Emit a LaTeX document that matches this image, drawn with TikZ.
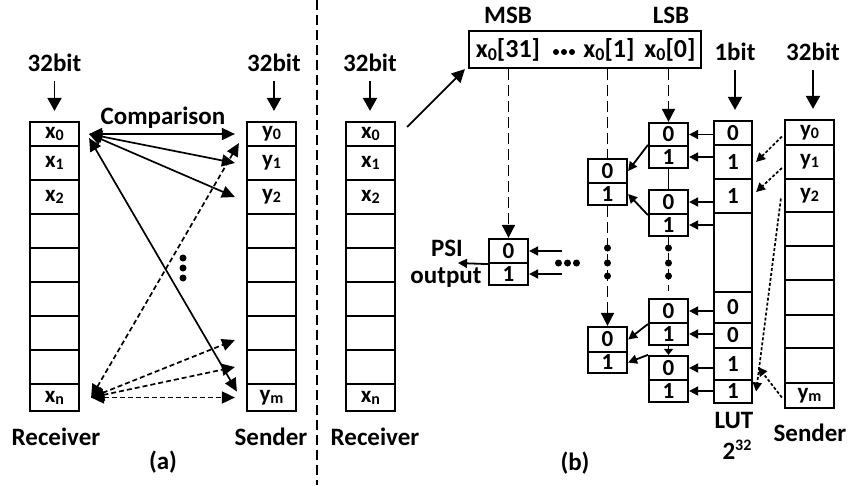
\documentclass[tikz,border=0pt]{standalone}
\usepackage{fontspec}
\setmainfont{Carlito}
\usetikzlibrary{arrows.meta,positioning}

\newcommand{\lsub}[1]{\raisebox{-2pt}{\fontsize{16}{16}\selectfont #1}}
\newcommand{\rsub}[1]{\raisebox{-2.5pt}{\fontsize{18}{18}\selectfont #1}}

\tikzset{
  cell/.style={draw,line width=2.2pt,inner sep=0pt,font=\bfseries\fontsize{23}{23}\selectfont},
  regtext/.style={font=\bfseries\fontsize{26}{26}\selectfont},
  bigarr/.style={-{Triangle[length=13pt,width=14pt]},line width=1.8pt},
  cmparr/.style={{Triangle[length=13pt,width=12pt]}-{Triangle[length=13pt,width=12pt]},line width=1.7pt},
  dcmparr/.style={cmparr,dash pattern=on 5pt off 3pt},
  sarr/.style={-{Triangle[length=9pt,width=9pt]},line width=1.8pt},
  bitline/.style={line width=1.7pt,dash pattern=on 11pt off 5pt},
  lutarr/.style={-{Triangle[length=9pt,width=9pt]},line width=1.7pt,dash pattern=on 3pt off 2pt},
}

\begin{document}
\begin{tikzpicture}[x=1pt,y=-1pt,font=\bfseries\fontsize{25}{25}\selectfont]
\useasboundingbox (0,0) rectangle (848,485);

% registers of receiver / sender
\foreach \col/\cx in {ra/54.5,sa/271.5,rb/370.5}{
  \foreach \t/\b [count=\i] in {122/146,146/180,180/214,214/248,248/282,282/316,316/350,350/384,384/411}{
    \pgfmathsetmacro\h{\b-\t}
    \node[cell,minimum width=49pt,minimum height=\h pt] (\col\i) at (\cx,{(\t+\b)/2}) {};
  }
}
\foreach \t/\b [count=\i] in {120/145,145/179,179/212,212/246,246/280,280/315,315/348,348/383,383/408}{
  \pgfmathsetmacro\h{\b-\t}
  \node[cell,minimum width=49pt,minimum height=\h pt] (sb\i) at (809.5,{(\t+\b)/2}) {};
}
\foreach \col/\v/\e in {ra/x/n,sa/y/m,rb/x/n,sb/y/m}{
  \foreach \k [evaluate=\k as \r using int(\k+1)] in {0,1,2}
    \node[cell,draw=none] (\col t\r) at (\col\r) {\v\lsub{\k}};
  \node[cell,draw=none] (\col t9) at (\col9) {\v\lsub{\e}};
}

% look up table
\foreach \t/\b/\v [count=\i] in {121/145/0,145/179/1,179/213/1,213/292/{},292/323/0,323/348/0,348/380/1,380/403/1}{
  \pgfmathsetmacro\h{\b-\t}
  \node[cell,minimum width=38pt,minimum height=\h pt] (lut\i) at (733,{(\t+\b)/2}) {\v};
}

% word width labels
\node (lra) at (54.5,63) {32bit};
\node (lsa) at (274,63) {32bit};
\node (lrb) at (370,63) {32bit};
\node (lbit) at (735,52) {1bit};
\node (lsb) at (813,52) {32bit};
\foreach \l/\c in {lra/ra1,lsa/sa1,lrb/rb1,lbit/lut1,lsb/sb1}
  \draw[bigarr] ([yshift=-6pt]\l.south) -- ([yshift=10pt]\l.south |- \c.north);

% (a) all pairs comparison
\node (cmp) at (163,118) {Comparison};
\draw[cmparr] ([xshift=9pt]ra1.east) -- ([xshift=-11pt]sa1.west);
\draw[cmparr] ([xshift=9pt]ra1.east) -- ([xshift=-11pt]sa2.west);
\draw[cmparr] ([xshift=9pt]ra1.east) -- ([xshift=-11pt]sa3.west);
\draw[cmparr] ([xshift=9pt,yshift=-4pt]ra1.east) -- ([xshift=-9pt,yshift=6pt]sa9.west);
\draw[dcmparr] ([xshift=11pt]ra9.east) -- ([xshift=-7pt,yshift=4pt]sa1.south west);
\draw[dcmparr] ([xshift=11pt]ra9.east) -- ([xshift=-11pt,yshift=-7pt]sa7.west);
\draw[dcmparr] ([xshift=11pt]ra9.east) -- ([xshift=-11pt]sa8.west);
\draw[dcmparr] ([xshift=11pt]ra9.east) -- ([xshift=-11pt]sa9.west);
\foreach \y in {258,268,278} \fill (183,\y) circle[radius=3.5pt];

\draw[line width=1.5pt,dash pattern=on 10pt off 5pt] (317,0) -- (317,485);

% (b) bit register of x0
\node[cell,minimum width=232pt,minimum height=37pt] (reg) at (585,49.5) {};
\node (msb) at (508,15) {MSB};
\node (lsb) at (671,15) {LSB};
\node[regtext] (b31) at (508,50) {x\rsub{0}[31]};
\node[regtext] (b1) at (609,50) {x\rsub{0}[1]};
\node[regtext] (b0) at (670,50) {x\rsub{0}[0]};
\foreach \x in {556,564,572} \fill (\x,52) circle[radius=3pt];
\draw[line width=1.8pt,-{Triangle[length=13pt,width=13pt]}] ([xshift=11pt,yshift=7pt]rb1.east) -- ([xshift=-3pt]reg.south west);

% multiplexers
\foreach \nm/\cx/\t/\m/\b in {ma/668.5/123/146/168,mb/668.5/190/214/236,mc/668.5/299/323/345,md/668.5/356/380/402,me/607.5/159/183/205,mf/607.5/327/352/373,mp/508.5/239/263/285}{
  \pgfmathsetmacro\ha{\m-\t}
  \pgfmathsetmacro\hb{\b-\m}
  \node[cell,minimum width=39pt,minimum height=\ha pt] (\nm0) at (\cx,{(\t+\m)/2}) {0};
  \node[cell,minimum width=39pt,minimum height=\hb pt] (\nm1) at (\cx,{(\m+\b)/2}) {1};
}
\foreach \m in {ma0,ma1,mb0,mb1,mc0,mc1,md0,md1}
  \draw[sarr] (lut1.west |- \m.east) -- (\m.east);
\draw[sarr] (ma1.north west) -- (me0.east);
\draw[sarr] (mb0.south west) -- (me1.east);
\draw[sarr] (mc0.south west) -- (mf0.east);
\draw[sarr] (md0.north west) -- (mf1.east);
\draw[line width=1.7pt] (ma1.south) -- (mb0.north);
\draw[line width=1.7pt,-{Triangle[length=6pt,width=9pt]}] (mc1.south) -- (md0.north);

% select bits
\draw[bitline,-{Triangle[length=13pt,width=13pt]}] (mp0.north |- reg.south) -- (mp0.north);
\draw[bitline] (me0.north |- reg.south) -- (me0.north);
\draw[bitline,-{Triangle[length=13pt,width=13pt]}] (ma0.north |- reg.south) -- (ma0.north);
\draw[bitline,-{Triangle[length=13pt,width=13pt]}] (me1.south) -- (mf0.north);
\draw[bitline,shorten >=7pt] (mb1.south) -- (mc0.north);
\foreach \x in {607.5,668.5}
  \foreach \y in {248,263,276} \fill (\x,\y) circle[radius=3.5pt];

% PSI output mux
\coordinate (pin) at (562,0);
\coordinate (psiout) at (458,263);
\draw[sarr] (pin |- mp0.east) -- (mp0.east);
\draw[sarr] (pin |- mp1.east) -- (mp1.east);
\foreach \x in {558.5,567.5,576.5} \fill (\x,263) circle[radius=3.5pt];
\draw[sarr] (mp0.south west) -- (psiout);
\node (psi) at (447,248) {PSI};
\node (outp) at (446,278) {output};

% sender values into LUT
\draw[lutarr] ([xshift=-2pt,yshift=-4pt]sb1.west) -- ([xshift=3pt]lut2.east);
\draw[lutarr] ([xshift=-2pt,yshift=-6pt]sb2.west) -- ([xshift=3pt,yshift=4pt]lut3.east);
\draw[lutarr] ([xshift=-3pt,yshift=-3pt]sb3.west) -- ([xshift=3pt]lut8.east);
\draw[lutarr] ([xshift=-2pt,yshift=-2pt]sb9.west) -- ([xshift=5pt,yshift=-3pt]lut7.east);

% captions
\node (reca) at (56,437) {Receiver};
\node (sena) at (271,437) {Sender};
\node (capa) at (163,462) {(a)};
\node (recb) at (375,437) {Receiver};
\node (lutl) at (734,420) {LUT};
\node[anchor=base west] (lutexp) at (719,459) {2\raisebox{9pt}{\fontsize{16}{16}\selectfont 32}};
\node (senb) at (810,433) {Sender};
\node (capb) at (575,463) {(b)};
\end{tikzpicture}
\end{document}
